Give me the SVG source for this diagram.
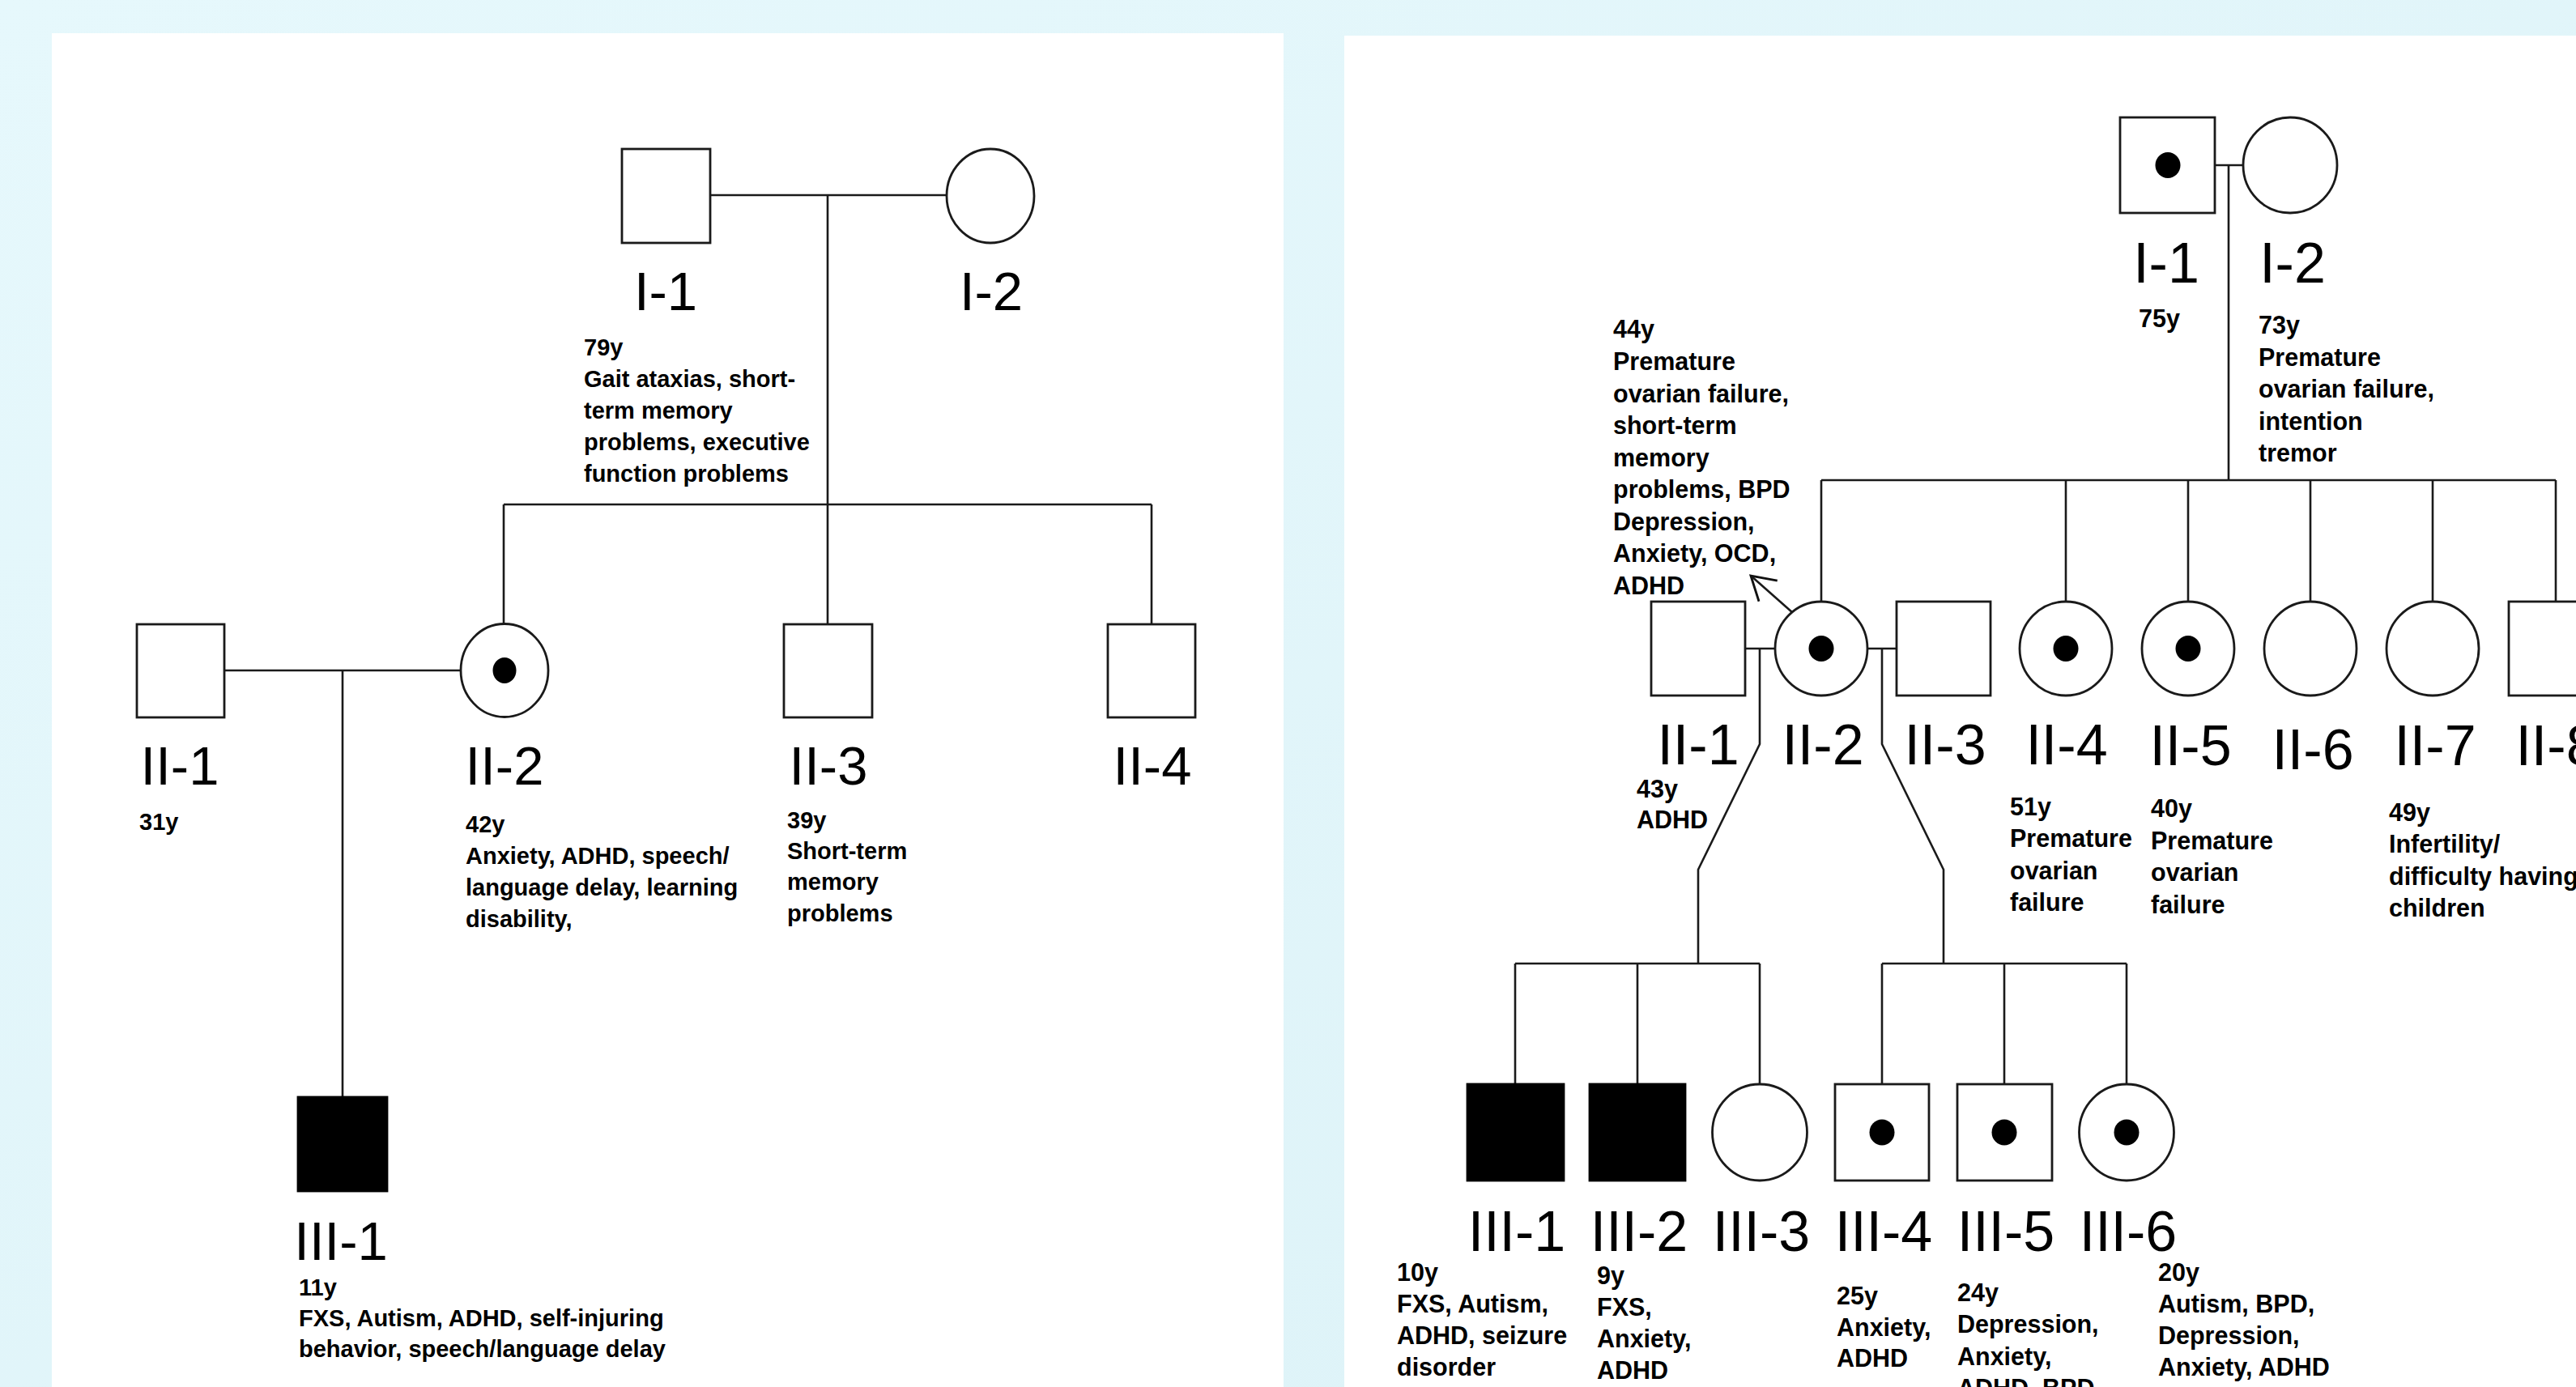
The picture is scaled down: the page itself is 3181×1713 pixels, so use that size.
<svg xmlns="http://www.w3.org/2000/svg" width="3181" height="1713" viewBox="0 0 3181 1713">
<defs>
<linearGradient id="bg" x1="0" y1="0" x2="1" y2="1">
<stop offset="0" stop-color="#e6f8fc"/>
<stop offset="1" stop-color="#dcf2f7"/>
</linearGradient>
<marker id="openArrow" markerUnits="userSpaceOnUse" viewBox="0 0 14 14" refX="12" refY="7" markerWidth="40" markerHeight="40" orient="auto">
<path d="M2,1 L12,7 L2,13" fill="none" stroke="#111" stroke-width="1"/>
</marker>
<style>
.ln{stroke:#1a1a1a;stroke-width:2.6;fill:none}
.sh{stroke:#1a1a1a;stroke-width:2.8;fill:#fff}
.aff{fill:#000;stroke:#000;stroke-width:2.8}
.dot{fill:#000}
.lbl{font-family:"Liberation Sans",Arial,sans-serif;font-size:67px;text-anchor:middle;fill:#000}
.lblR{font-family:"Liberation Sans",Arial,sans-serif;font-size:70px;text-anchor:middle;fill:#000}
.inf{font-family:"Liberation Sans",Arial,sans-serif;font-weight:bold;font-size:29px;fill:#000}
.infR{font-family:"Liberation Sans",Arial,sans-serif;font-weight:bold;font-size:30.5px;fill:#000}
</style>
</defs>
<rect x="0" y="0" width="3181" height="1713" fill="url(#bg)"/>
<rect id="panel-left" x="64" y="41" width="1521" height="1672" fill="#fff"/>
<rect id="panel-right" x="1660" y="44" width="1521" height="1669" fill="#fff"/>

<!-- LEFT PANEL -->
<g id="left-connectors">
<path class="ln" d="M877,241 H1169"/>
<path class="ln" d="M1022,241 V771"/>
<path class="ln" d="M622,623 H1422"/>
<path class="ln" d="M622,623 V770"/>
<path class="ln" d="M1422,623 V771"/>
<path class="ln" d="M277,828 H569"/>
<path class="ln" d="M423,828 V1355"/>
</g>
<g id="L-I-1">
<rect class="sh" x="768" y="184" width="109" height="116"/>
<text class="lbl" x="822" y="383">I-1</text>
<text class="inf" x="721" y="439">79y</text>
<text class="inf" x="721" y="478">Gait ataxias, short-</text>
<text class="inf" x="721" y="517">term memory</text>
<text class="inf" x="721" y="556">problems, executive</text>
<text class="inf" x="721" y="595">function problems</text>
</g>
<g id="L-I-2">
<ellipse class="sh" cx="1223" cy="242" rx="54" ry="58"/>
<text class="lbl" x="1224" y="383">I-2</text>
</g>
<g id="L-II-1">
<rect class="sh" x="169" y="771" width="108" height="115"/>
<text class="lbl" x="222" y="969">II-1</text>
<text class="inf" x="172" y="1025">31y</text>
</g>
<g id="L-II-2">
<ellipse class="sh" cx="623" cy="828" rx="54" ry="57.5"/>
<ellipse class="dot" cx="623" cy="828" rx="14.5" ry="16"/>
<text class="lbl" x="623" y="969">II-2</text>
<text class="inf" x="575" y="1028">42y</text>
<text class="inf" x="575" y="1067">Anxiety, ADHD, speech/</text>
<text class="inf" x="575" y="1106">language delay, learning</text>
<text class="inf" x="575" y="1145">disability,</text>
</g>
<g id="L-II-3">
<rect class="sh" x="968" y="771" width="109" height="115"/>
<text class="lbl" x="1023" y="969">II-3</text>
<text class="inf" x="972" y="1023">39y</text>
<text class="inf" x="972" y="1061">Short-term</text>
<text class="inf" x="972" y="1099">memory</text>
<text class="inf" x="972" y="1138">problems</text>
</g>
<g id="L-II-4">
<rect class="sh" x="1368" y="771" width="108" height="115"/>
<text class="lbl" x="1423" y="969">II-4</text>
</g>
<g id="L-III-1">
<rect class="aff" x="368" y="1355" width="110" height="116"/>
<text class="lbl" x="421" y="1556">III-1</text>
<text class="inf" x="369" y="1600">11y</text>
<text class="inf" x="369" y="1638">FXS, Autism, ADHD, self-injuring</text>
<text class="inf" x="369" y="1676">behavior, speech/language delay</text>
</g>

<!-- RIGHT PANEL -->
<g id="right-connectors">
<path class="ln" d="M2735,204 H2770"/>
<path class="ln" d="M2752,204 V593"/>
<path class="ln" d="M2249,593 H3156"/>
<path class="ln" d="M2249,593 V743 M2551,593 V743 M2702,593 V743 M2853,593 V743 M3004,593 V743 M3156,593 V743"/>
<path class="ln" d="M2155,801 H2192"/>
<path class="ln" d="M2306,801 H2342"/>
<path class="ln" d="M2173,801 V919 L2097,1074 V1190"/>
<path class="ln" d="M2324,801 V919 L2400,1074 V1190"/>
<path class="ln" d="M1871,1190 H2173 M1871,1190 V1339 M2022,1190 V1339 M2173,1190 V1340"/>
<path class="ln" d="M2324,1190 H2626 M2324,1190 V1339 M2475,1190 V1339 M2626,1190 V1340"/>
<path class="ln" d="M2214,757 L2162,711" marker-end="url(#openArrow)"/>
</g>
<g id="R-I-1">
<rect class="sh" x="2618" y="145" width="117" height="118"/>
<ellipse class="dot" cx="2677" cy="204" rx="15.5" ry="16"/>
<text class="lblR" x="2675" y="349">I-1</text>
<text class="infR" x="2641" y="404">75y</text>
</g>
<g id="R-I-2">
<ellipse class="sh" cx="2828" cy="204" rx="58" ry="59"/>
<text class="lblR" x="2831" y="349">I-2</text>
<text class="infR" x="2789" y="412">73y</text>
<text class="infR" x="2789" y="451.5">Premature</text>
<text class="infR" x="2789" y="491">ovarian failure,</text>
<text class="infR" x="2789" y="530.5">intention</text>
<text class="infR" x="2789" y="570">tremor</text>
</g>
<g id="R-II-1">
<rect class="sh" x="2039" y="743" width="116" height="116"/>
<text class="lblR" x="2097" y="944">II-1</text>
<text class="infR" x="2021" y="985">43y</text>
<text class="infR" x="2021" y="1023">ADHD</text>
</g>
<g id="R-II-2">
<ellipse class="sh" cx="2249" cy="801" rx="57" ry="58"/>
<ellipse class="dot" cx="2249" cy="801" rx="15.5" ry="16"/>
<text class="lblR" x="2251" y="944">II-2</text>
<text class="infR" x="1992" y="417">44y</text>
<text class="infR" x="1992" y="457">Premature</text>
<text class="infR" x="1992" y="496.5">ovarian failure,</text>
<text class="infR" x="1992" y="536">short-term</text>
<text class="infR" x="1992" y="575.5">memory</text>
<text class="infR" x="1992" y="615">problems, BPD</text>
<text class="infR" x="1992" y="654.5">Depression,</text>
<text class="infR" x="1992" y="694">Anxiety, OCD,</text>
<text class="infR" x="1992" y="733.5">ADHD</text>
</g>
<g id="R-II-3">
<rect class="sh" x="2342" y="743" width="116" height="116"/>
<text class="lblR" x="2402" y="944">II-3</text>
</g>
<g id="R-II-4">
<ellipse class="sh" cx="2551" cy="801" rx="57" ry="58"/>
<ellipse class="dot" cx="2551" cy="801" rx="15.5" ry="16"/>
<text class="lblR" x="2552" y="944">II-4</text>
<text class="infR" x="2482" y="1007">51y</text>
<text class="infR" x="2482" y="1046">Premature</text>
<text class="infR" x="2482" y="1085.5">ovarian</text>
<text class="infR" x="2482" y="1125">failure</text>
</g>
<g id="R-II-5">
<ellipse class="sh" cx="2702" cy="801" rx="57" ry="58"/>
<ellipse class="dot" cx="2702" cy="801" rx="15.5" ry="16"/>
<text class="lblR" x="2705" y="945">II-5</text>
<text class="infR" x="2656" y="1009">40y</text>
<text class="infR" x="2656" y="1048.5">Premature</text>
<text class="infR" x="2656" y="1088">ovarian</text>
<text class="infR" x="2656" y="1128">failure</text>
</g>
<g id="R-II-6">
<ellipse class="sh" cx="2853" cy="801" rx="57" ry="58"/>
<text class="lblR" x="2856" y="950">II-6</text>
</g>
<g id="R-II-7">
<ellipse class="sh" cx="3004" cy="801" rx="57" ry="58"/>
<text class="lblR" x="3007" y="945">II-7</text>
<text class="infR" x="2950" y="1014">49y</text>
<text class="infR" x="2950" y="1053">Infertility/</text>
<text class="infR" x="2950" y="1092.5">difficulty having</text>
<text class="infR" x="2950" y="1132">children</text>
</g>
<g id="R-II-8">
<rect class="sh" x="3098" y="743" width="116" height="116"/>
<text class="lblR" x="3157" y="945">II-8</text>
</g>
<g id="R-III-1">
<rect class="aff" x="1812" y="1339" width="119" height="119"/>
<text class="lblR" x="1873" y="1545">III-1</text>
<text class="infR" x="1725" y="1582">10y</text>
<text class="infR" x="1725" y="1621">FXS, Autism,</text>
<text class="infR" x="1725" y="1660">ADHD, seizure</text>
<text class="infR" x="1725" y="1699">disorder</text>
</g>
<g id="R-III-2">
<rect class="aff" x="1963" y="1339" width="118" height="119"/>
<text class="lblR" x="2024" y="1545">III-2</text>
<text class="infR" x="1972" y="1586">9y</text>
<text class="infR" x="1972" y="1625">FXS,</text>
<text class="infR" x="1972" y="1664">Anxiety,</text>
<text class="infR" x="1972" y="1703">ADHD</text>
</g>
<g id="R-III-3">
<ellipse class="sh" cx="2173" cy="1398.5" rx="58.5" ry="59.5"/>
<text class="lblR" x="2175" y="1545">III-3</text>
</g>
<g id="R-III-4">
<rect class="sh" x="2266" y="1339" width="116" height="119"/>
<ellipse class="dot" cx="2324" cy="1398.5" rx="15.5" ry="16"/>
<text class="lblR" x="2326" y="1545">III-4</text>
<text class="infR" x="2268" y="1611">25y</text>
<text class="infR" x="2268" y="1649.5">Anxiety,</text>
<text class="infR" x="2268" y="1688">ADHD</text>
</g>
<g id="R-III-5">
<rect class="sh" x="2417" y="1339" width="117" height="119"/>
<ellipse class="dot" cx="2475" cy="1398.5" rx="15.5" ry="16"/>
<text class="lblR" x="2477" y="1545">III-5</text>
<text class="infR" x="2417" y="1607">24y</text>
<text class="infR" x="2417" y="1646">Depression,</text>
<text class="infR" x="2417" y="1685.5">Anxiety,</text>
<text class="infR" x="2417" y="1725">ADHD, BPD</text>
</g>
<g id="R-III-6">
<ellipse class="sh" cx="2626" cy="1398.5" rx="58.5" ry="59.5"/>
<ellipse class="dot" cx="2626" cy="1398.5" rx="15.5" ry="16"/>
<text class="lblR" x="2628" y="1545">III-6</text>
<text class="infR" x="2665" y="1582">20y</text>
<text class="infR" x="2665" y="1621">Autism, BPD,</text>
<text class="infR" x="2665" y="1660">Depression,</text>
<text class="infR" x="2665" y="1699">Anxiety, ADHD</text>
</g>
</svg>
